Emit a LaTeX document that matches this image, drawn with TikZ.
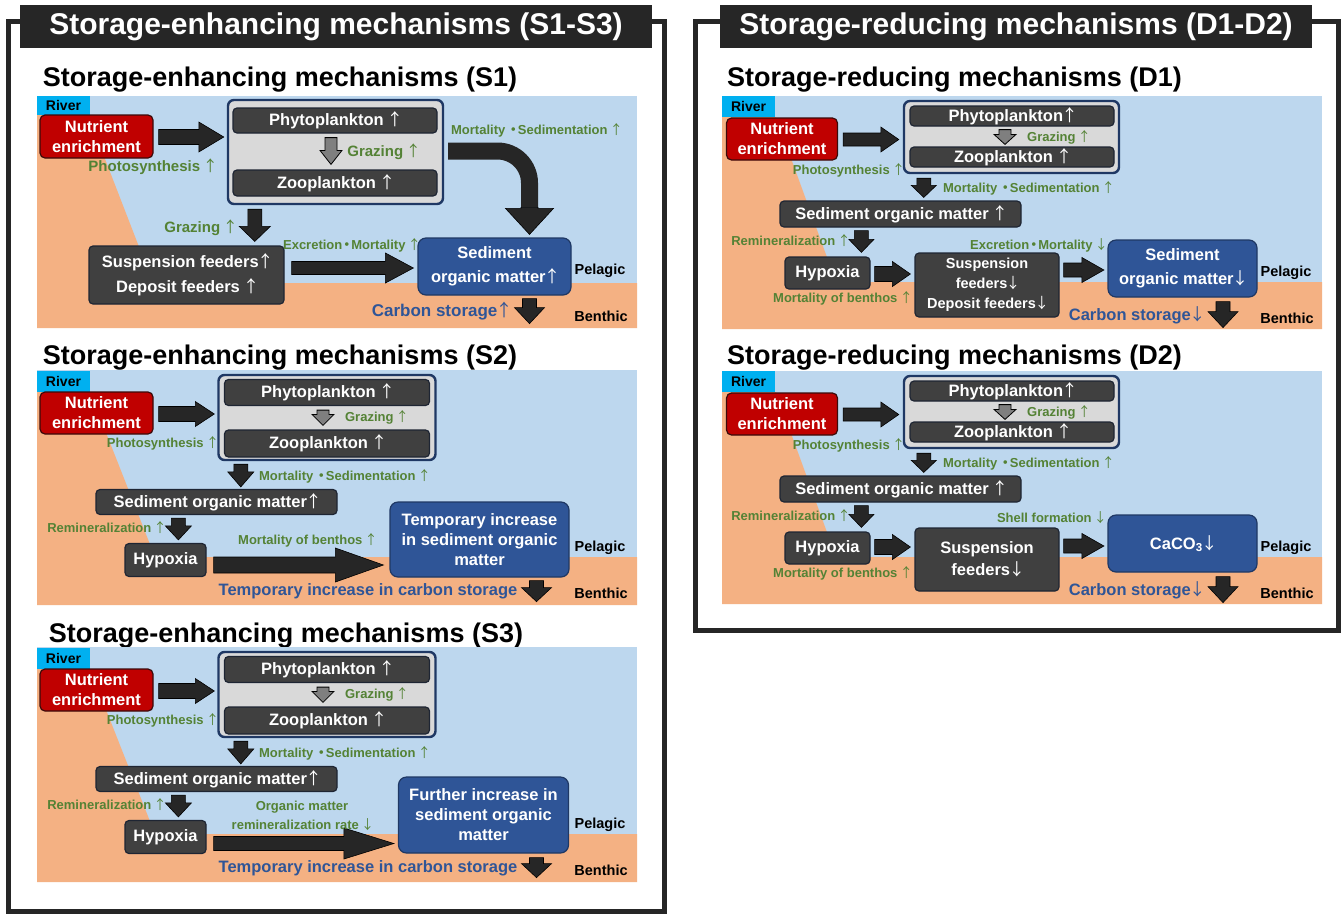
\documentclass[tikz,border=0pt]{standalone}
\usepackage{fontspec}
\setmainfont{Liberation Sans}
\newfontfamily\cjk{Noto Sans CJK JP}
\usetikzlibrary{calc}

\definecolor{waterc}{HTML}{BDD7EE}
\definecolor{sandc}{HTML}{F4B183}
\definecolor{riverc}{HTML}{00B0F0}
\definecolor{nutc}{HTML}{C00000}
\definecolor{nutedge}{HTML}{3B0A0A}
\definecolor{boxc}{HTML}{404040}
\definecolor{boxedge}{HTML}{1E2533}
\definecolor{plkc}{HTML}{D9D9D9}
\definecolor{navy}{HTML}{1F3864}
\definecolor{somc}{HTML}{2F5597}
\definecolor{labgreen}{HTML}{548235}
\definecolor{storeblue}{HTML}{2F5597}
\definecolor{arrowc}{HTML}{262626}
\definecolor{framec}{HTML}{262626}
\definecolor{grazec}{HTML}{7F7F7F}

\newcommand\fsz[2]{\fontsize{#1pt}{#2pt}\selectfont\bfseries}
\newcommand\kdot{{\cjk\bfseries\kern-2pt ・\kern-2pt}}
% thin tall up / down arrows
\newcommand\up{{\cjk\mdseries\kern-0.1em↑\kern-0.15em}}
\newcommand\dn{{\cjk\mdseries\kern-0.1em↓\kern-0.15em}}

% block arrow pointing down: [style]{start}{tip}{shaft width}{head width}{head length}
\newcommand\downarrowblk[6][blockarrow]{%
  \path[#1] let \p1=#2, \p2=#3 in
    ({\x1-#4*0.5pt},\y1) -- ({\x1-#4*0.5pt},{\y2+#6*1pt}) -- ({\x1-#5*0.5pt},{\y2+#6*1pt})
    -- (\x1,\y2) -- ({\x1+#5*0.5pt},{\y2+#6*1pt}) -- ({\x1+#4*0.5pt},{\y2+#6*1pt})
    -- ({\x1+#4*0.5pt},\y1) -- cycle;}
% block arrow pointing right: [style]{start}{tip}{shaft height}{head height}{head length}
\newcommand\rarrowblk[6][blockarrow]{%
  \path[#1] let \p1=#2, \p2=#3 in
    (\x1,{\y1+#4*0.5pt}) -- ({\x2-#6*1pt},{\y1+#4*0.5pt}) -- ({\x2-#6*1pt},{\y1+#5*0.5pt})
    -- (\x2,\y1) -- ({\x2-#6*1pt},{\y1-#5*0.5pt}) -- ({\x2-#6*1pt},{\y1-#4*0.5pt})
    -- (\x1,{\y1-#4*0.5pt}) -- cycle;}

\tikzset{
  rivertag/.style={rectangle, fill=riverc, inner sep=0pt, minimum width=53pt, minimum height=21pt, font=\fsz{14}{14}},
  nutbox/.style={rectangle, rounded corners=5pt, fill=nutc, draw=nutedge, line width=1.2pt, text=white, align=center, inner sep=0pt, font=\fsz{16.5}{20}},
  dbox/.style={rectangle, rounded corners=4pt, fill=boxc, draw=boxedge, line width=1.2pt, text=white, align=center, inner sep=0pt, font=\fsz{16.5}{20}},
  plkbox/.style={rectangle, rounded corners=6pt, fill=plkc, draw=navy, line width=2.4pt, inner sep=0pt},
  bbox/.style={rectangle, rounded corners=8pt, fill=somc, draw=navy, line width=1.2pt, text=white, align=center, inner sep=0pt, font=\fsz{16.5}{20}},
  glab/.style={text=labgreen, inner sep=0pt, font=\fsz{13}{13}},
  blab/.style={text=storeblue, inner sep=0pt, font=\fsz{16.5}{16.5}},
  zone/.style={inner sep=0pt, font=\fsz{14.5}{14.5}},
  ttl/.style={inner sep=0pt, anchor=base, font=\fsz{27}{27}},
  hdr/.style={rectangle, fill=framec, text=white, inner sep=0pt, minimum height=43pt, font=\fsz{30}{30}},
  blockarrow/.style={fill=arrowc, draw=black, line width=0.6pt, line join=miter},
  grazearrow/.style={fill=grazec, draw=black, line width=0.8pt, line join=miter},
  outerframe/.style={draw=framec, line width=5pt},
}

% shared upper chain of the S2/S3 panels (argument: vertical offset)
\newcommand\upperS[1]{%
  \fill[waterc] (37,{370+#1}) rectangle (637,{605+#1});
  \fill[sandc] (37,{392+#1}) -- (90,{392+#1}) -- (155,{557+#1}) -- (637,{557+#1})
    -- (637,{605+#1}) -- (37,{605+#1}) -- cycle;
  \node[rivertag] (riv) at (63.5,{381+#1}) {River};
  \node[nutbox, minimum width=113pt, minimum height=42pt] (nut) at (96.5,{413+#1}) {Nutrient\\enrichment};
  \node[plkbox, minimum width=217pt, minimum height=85pt] (plk) at (327,{417.5+#1}) {};
  \node[dbox, minimum width=205pt, minimum height=26pt] (phy) at (327,{392.5+#1}) {Phytoplankton \up};
  \node[dbox, minimum width=205pt, minimum height=27pt] (zoo) at (327,{443.5+#1}) {Zooplankton \up};
  \node[dbox, minimum width=241pt, minimum height=25pt] (som) at (216.5,{502+#1}) {Sediment organic matter\up};
  \node[dbox, minimum width=81pt, minimum height=33pt] (hyp) at (165.5,{560+#1}) {Hypoxia};
  \rarrowblk{($(nut.east)+(5,1)$)}{($(nut.east -| plk.west)+(-3,1)$)}{15}{25}{19}
  \downarrowblk[grazearrow]{($(phy.south)+(-4,4)$)}{($(zoo.north)+(-4,-4)$)}{12}{22}{11}
  \coordinate (m1) at ($(plk.south west)+(23.5,3)$);
  \downarrowblk{(m1)}{($(m1 |- som.north)+(0,-2)$)}{14}{26}{15}
  \coordinate (r1) at ($(som.south west)+(83,3)$);
  \downarrowblk{(r1)}{($(r1 |- hyp.north)+(0,-3)$)}{14}{26}{14}
  \node[glab] (ps) at (162,{443+#1}) {Photosynthesis \up};
  \node[glab] (gz) at (376,{417+#1}) {Grazing \up};
  \node[glab] (ms) at (344,{476+#1}) {Mortality \kdot Sedimentation \up};
  \node[glab] (rm) at (106,{528+#1}) {Remineralization \up};
  \node[zone] (pel) at (600,{548+#1}) {Pelagic};
  \node[zone] (ben) at (601,{593+#1}) {Benthic};
  \node[blab] (cs) at (368,{591+#1}) {Temporary increase in carbon storage};
}

% shared upper chain of the D1/D2 panels (argument: vertical offset)
\newcommand\upperD[1]{%
  \fill[waterc] (722,{96+#1}) rectangle (1322,{329+#1});
  \fill[sandc] (722,{117+#1}) -- (776,{117+#1}) -- (836,{282+#1}) -- (1322,{282+#1})
    -- (1322,{329+#1}) -- (722,{329+#1}) -- cycle;
  \node[rivertag] (riv) at (748.5,{106.5+#1}) {River};
  \node[nutbox, minimum width=111pt, minimum height=42pt] (nut) at (782,{139+#1}) {Nutrient\\enrichment};
  \node[plkbox, minimum width=215pt, minimum height=72pt] (plk) at (1011.5,{137+#1}) {};
  \node[dbox, minimum width=204pt, minimum height=20pt] (phy) at (1012,{116+#1}) {Phytoplankton\up};
  \node[dbox, minimum width=204pt, minimum height=20pt] (zoo) at (1012,{157+#1}) {Zooplankton \up};
  \node[dbox, minimum width=241pt, minimum height=26pt] (som) at (900.5,{214+#1}) {Sediment organic matter \up};
  \node[dbox, minimum width=85pt, minimum height=32pt] (hyp) at (827.5,{273+#1}) {Hypoxia};
  \rarrowblk{($(nut.east)+(5,0.5)$)}{($(nut.east -| plk.west)+(-4,0.5)$)}{13}{25}{18}
  \downarrowblk[grazearrow]{($(phy.south)+(-7,3)$)}{($(zoo.north)+(-7,-2)$)}{12}{22}{10}
  \coordinate (m1) at ($(plk.south west)+(21,4)$);
  \downarrowblk{(m1)}{($(m1 |- som.north)+(0,-3)$)}{14}{25}{12}
  \coordinate (r1) at ($(som.south west)+(82,3)$);
  \downarrowblk{(r1)}{($(r1 |- hyp.north)+(0,-4)$)}{14}{25}{13}
  \node[glab] (ps) at (848,{170+#1}) {Photosynthesis \up};
  \node[glab] (gz) at (1058,{137+#1}) {Grazing \up};
  \node[glab] (ms) at (1028,{188+#1}) {Mortality \kdot Sedimentation \up};
  \node[glab] (rm) at (790,{241+#1}) {Remineralization \up};
  \node[glab] (mb) at (842,{298+#1}) {Mortality of benthos \up};
  \node[zone] (pel) at (1286,{273+#1}) {Pelagic};
  \node[zone] (ben) at (1287,{318+#1}) {Benthic};
  \node[blab] (cs) at (1136,{315+#1}) {Carbon storage\dn};
}

\begin{document}
\begin{tikzpicture}[x=1pt, y=-1pt]
\useasboundingbox (0,0) rectangle (1343,914);
\fill[white] (0,0) rectangle (1343,914);

% ---------- outer frames and headers ----------
\draw[outerframe] (8,21) rectangle (664,911);
\draw[outerframe] (695,21) rectangle (1338,630);
\node[hdr, minimum width=632pt] (hdrS) at (336,26.5) {Storage-enhancing mechanisms (S1-S3)};
\node[hdr, minimum width=592pt] (hdrD) at (1016,26.5) {Storage-reducing mechanisms (D1-D2)};

\node[ttl] (tS1) at (280,86.5) {Storage-enhancing mechanisms (S1)};
\node[ttl] (tS2) at (280,364.5) {Storage-enhancing mechanisms (S2)};
\node[ttl] (tS3) at (286,642.5) {Storage-enhancing mechanisms (S3)};
\node[ttl] (tD1) at (954.5,86.5) {Storage-reducing mechanisms (D1)};
\node[ttl] (tD2) at (954.5,364.5) {Storage-reducing mechanisms (D2)};

% ---------- S1 ----------
\begin{scope}[name prefix=s1-]
  \fill[waterc] (37,96) rectangle (637,328);
  \fill[sandc] (37,115) -- (88,115) -- (153,283) -- (637,283) -- (637,328) -- (37,328) -- cycle;
  \node[rivertag, minimum height=19pt] (riv) at (63.5,105.5) {River};
  \node[nutbox, minimum width=113pt, minimum height=43pt] (nut) at (96.5,136.5) {Nutrient\\enrichment};
  \node[plkbox, minimum width=215pt, minimum height=104pt] (plk) at (335.5,152) {};
  \node[dbox, minimum width=204pt, minimum height=25pt] (phy) at (335,120.5) {Phytoplankton \up};
  \node[dbox, minimum width=204pt, minimum height=26pt] (zoo) at (335,183) {Zooplankton \up};
  \node[dbox, minimum width=195pt, minimum height=58pt, font=\fsz{16.5}{25}] (sus) at (186.5,275) {Suspension feeders\up\\Deposit feeders \up};
  \node[bbox, minimum width=153pt, minimum height=57pt, font=\fsz{16.5}{24}] (som) at (494.5,266.5) {Sediment\\organic matter\up};

  \rarrowblk{($(nut.east)+(5,0.5)$)}{($(nut.east -| plk.west)+(-3,0.5)$)}{15}{30}{25}
  \downarrowblk[grazearrow]{($(phy.south)+(-4,4)$)}{($(zoo.north)+(-4,-5)$)}{12}{22}{14}
  \coordinate (g) at ($(plk.south west)+(28,4)$);
  \downarrowblk{(g)}{($(g |- sus.north)+(0,-4)$)}{14}{31}{15}
  \rarrowblk{($(sus.east)+(7,-7)$)}{($(sus.east -| som.west)+(-4,-7)$)}{13}{30}{28}
  \coordinate (cv) at ($(som.north)+(35,-30)$);
  \draw[arrowc, line width=17pt, rounded corners=32pt] ($(plk.east)+(4,-1)$) -| (cv);
  \downarrowblk{(cv)}{($(som.north)+(35,-3)$)}{17}{48}{26}
  \coordinate (ct) at ($(som.south)+(35,3)$);
  \coordinate (cb) at ($(som.south)+(35,28)$);
  \downarrowblk{(ct)}{(cb)}{14}{30}{16}

  \node[glab, font=\fsz{15}{15}] (ps) at (152,167) {Photosynthesis \up};
  \node[glab, font=\fsz{15}{15}] (gz1) at (383,152) {Grazing \up};
  \node[glab, font=\fsz{15}{15}] (gz2) at (200,228) {Grazing \up};
  \node[glab] (ex) at (351,245) {Excretion\kdot Mortality \up};
  \node[glab] (ms) at (536,130) {Mortality \kdot Sedimentation \up};
  \node[zone] (pel) at (600,271) {Pelagic};
  \node[zone] (ben) at (601,316) {Benthic};
  \node[blab, font=\fsz{17}{17}] (cs) at (441,311) {Carbon storage\up};
\end{scope}

% ---------- S2 ----------
\begin{scope}[name prefix=s2-]
  \upperS{0}
  \node[bbox, minimum width=179pt, minimum height=75pt] (blu) at (479.5,539.5) {Temporary increase\\in sediment organic\\matter};
  \rarrowblk{($(hyp.east)+(7,5)$)}{($(hyp.east -| blu.west)+(-6,5)$)}{16}{34}{48}
  \downarrowblk{($(blu.south)+(57,3)$)}{($(blu.south)+(57,24)$)}{14}{30}{14}
  \node[glab] (mb) at (307,540) {Mortality of benthos \up};
\end{scope}

% ---------- S3 ----------
\begin{scope}[name prefix=s3-]
  \upperS{277}
  \node[bbox, minimum width=170pt, minimum height=76pt] (blu) at (483.5,815) {Further increase in\\sediment organic\\matter};
  \rarrowblk{($(hyp.east)+(7,6.5)$)}{($(hyp.east -| blu.west)+(-4,6.5)$)}{14}{31}{50}
  \downarrowblk{($(blu.south)+(53,4)$)}{($(blu.south)+(53,24)$)}{14}{30}{14}
  \node[glab, align=center, font=\fsz{13}{19}] (om) at (302,815.5) {Organic matter\\remineralization rate \dn};
\end{scope}

% ---------- D1 ----------
\begin{scope}[name prefix=d1-]
  \upperD{0}
  \node[dbox, minimum width=144pt, minimum height=64pt, font=\fsz{14.5}{20}] (sus) at (987,285) {Suspension\\feeders\dn\\Deposit feeders\dn};
  \node[bbox, minimum width=149pt, minimum height=57pt, font=\fsz{16.5}{24}] (blu) at (1182.5,268.5) {Sediment\\organic matter\dn};
  \rarrowblk{($(hyp.east)+(4,1)$)}{($(hyp.east -| sus.west)+(-4,1)$)}{15}{25}{18}
  \rarrowblk{($(sus.east)+(4,-15)$)}{($(sus.east -| blu.west)+(-3.5,-15)$)}{14}{25}{22}
  \downarrowblk{($(blu.south)+(40.5,4)$)}{($(blu.south)+(40.5,30)$)}{14}{30}{16}
  \node[glab] (ex) at (1038,245) {Excretion\kdot Mortality \dn};
\end{scope}

% ---------- D2 ----------
\begin{scope}[name prefix=d2-]
  \upperD{275}
  \node[dbox, minimum width=144pt, minimum height=63pt, font=\fsz{16.5}{22}] (sus) at (987,559.5) {Suspension\\feeders\dn};
  \node[bbox, minimum width=149pt, minimum height=57pt] (blu) at (1182.5,543.5) {CaCO\textsubscript{3}\dn};
  \rarrowblk{($(hyp.east)+(4,-1)$)}{($(hyp.east -| sus.west)+(-4,-1)$)}{15}{25}{18}
  \rarrowblk{($(sus.east)+(4,-13.5)$)}{($(sus.east -| blu.west)+(-3.5,-13.5)$)}{14}{25}{22}
  \downarrowblk{($(blu.south)+(40.5,4)$)}{($(blu.south)+(40.5,30)$)}{14}{30}{16}
  \node[glab] (sf) at (1051,518) {Shell formation \dn};
\end{scope}
\end{tikzpicture}
\end{document}
